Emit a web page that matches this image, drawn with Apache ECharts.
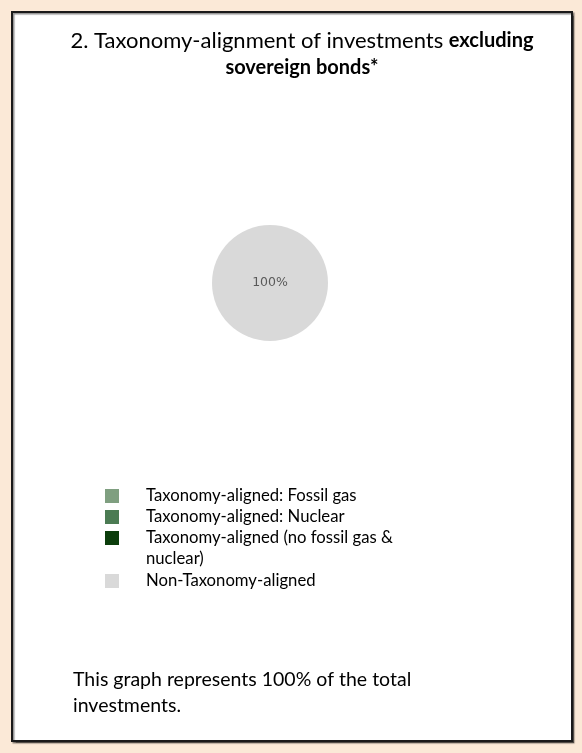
<!DOCTYPE html>
<html>
<head>
<meta charset="utf-8">
<script src="https://cdn.jsdelivr.net/npm/echarts@6/dist/echarts.min.js"></script>
<style>
html,body{margin:0;padding:0;background:#FBE9D7;}
#c{width:582px;height:753px;}
</style>
</head>
<body>
<div id="c"></div>
<script>
// Data
var categories = [
  'Taxonomy-aligned: Fossil gas',
  'Taxonomy-aligned: Nuclear',
  'Taxonomy-aligned (no fossil gas & nuclear)',
  'Non-Taxonomy-aligned'
];
var values = [0, 0, 0, 100];
var colors = ['#7F9F80', '#4B7B53', '#0B3D0B', '#D9D9D9'];
var titleText = '2. Taxonomy-alignment of investments {b|excluding}\n{b|sovereign bonds*}';
var footerText = 'This graph represents 100% of the total\ninvestments.';

var font = 'Lato';
var legendTops = [480.5, 501.5, 501.5, 565.5];

var legends = categories.map(function (name, i) {
  return {
    data: [name],
    orient: 'vertical',
    left: 100,
    top: legendTops[i],
    icon: 'rect',
    itemWidth: 14,
    itemHeight: 14,
    itemGap: 0,
    formatter: function (n) {
      return n.indexOf(' & nuclear)') >= 0 ? ' \n' + n.replace(' & nuclear)', ' &\nnuclear)') : n;
    },
    textStyle: {
      fontFamily: font,
      fontSize: 16.7,
      color: '#000',
      lineHeight: 21,
      padding: [0, 0, 0, 22]
    }
  };
});

var chart = echarts.init(document.getElementById('c'));
chart.setOption({
  backgroundColor: '#FBE9D7',
  animation: false,
  color: colors,
  graphic: [{
    type: 'rect',
    z: -10,
    shape: { x: 12, y: 12, width: 560, height: 729 },
    style: { fill: '#fff', stroke: '#1a1a1a', lineWidth: 2,
      shadowColor: 'rgba(0,0,0,0.45)', shadowOffsetX: 1.5, shadowOffsetY: 1.5, shadowBlur: 1 }
  }],
  title: [{
    text: titleText,
    left: 297,
    top: 22,
    textAlign: 'center',
    textStyle: {
      fontFamily: font,
      fontSize: 22,
      fontWeight: 'normal',
      color: '#000',
      lineHeight: 27,
      rich: {
        b: { fontFamily: font, fontSize: 20, fontWeight: 'bold', color: '#000', lineHeight: 27 }
      }
    }
  }, {
    text: footerText,
    left: 68,
    top: 662,
    textStyle: {
      fontFamily: font,
      fontSize: 19.5,
      fontWeight: 'normal',
      color: '#000',
      lineHeight: 26
    }
  }],
  legend: legends,
  series: [{
    type: 'pie',
    center: [270, 283],
    radius: [0, 58],
    silent: true,
    itemStyle: { borderWidth: 0 },
    label: {
      show: true,
      position: 'center',
      fontFamily: 'DejaVu Sans',
      fontSize: 12.5,
      color: '#595959',
      formatter: function (p) { return p.value > 0 ? Math.round(p.percent) + '%' : ''; }
    },
    labelLine: { show: false },
    emphasis: { disabled: true },
    data: categories.map(function (n, i) { return { name: n, value: values[i] }; })
  }]
});
</script>
</body>
</html>
